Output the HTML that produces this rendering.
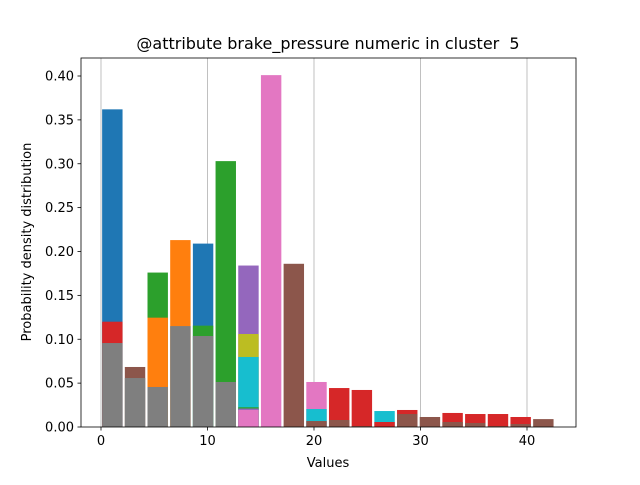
<!DOCTYPE html>
<html><head><meta charset="utf-8"><style>
body{margin:0;background:#fff;}
svg text{font-family:"DejaVu Sans","Liberation Sans",sans-serif;fill:#000;}
</style></head><body>
<svg id="chart" width="640" height="480" xmlns="http://www.w3.org/2000/svg">
<rect width="640" height="480" fill="#fff"/>
<g id="grid"></g><g id="bars"></g><g id="axes"></g>
<text x="328" y="49" font-size="16" text-anchor="middle">@attribute brake_pressure numeric in cluster&#160; 5</text>
<text x="328" y="467" font-size="13" text-anchor="middle">Values</text>
<text transform="translate(31,242) rotate(-90)" font-size="13" text-anchor="middle">Probability density distribution</text>
</svg>
<script>
const binWidth = 2.13;
const xTicks = [0, 10, 20, 30, 40];
const yTicks = ["0.00","0.05","0.10","0.15","0.20","0.25","0.30","0.35","0.40"];
const blue   = [0.362,0,0,0,0.209,0,0,0,0,0,0,0,0,0,0,0,0,0,0,0];
const orange = [0,0,0.1246,0.213,0,0,0,0,0,0,0,0,0,0,0,0,0,0,0,0];
const green  = [0,0,0.176,0,0.1155,0.303,0.0225,0,0,0,0,0,0,0,0,0,0,0,0,0];
const red    = [0.120,0,0,0,0,0,0,0,0,0,0.0444,0.0422,0.0057,0.0194,0,0.016,0.0148,0.0148,0.0114,0];
const purple = [0,0,0,0,0,0,0.184,0,0,0,0,0,0,0,0,0,0,0,0,0];
const purple2= [0,0,0,0,0,0,0.021,0,0,0,0,0,0,0,0,0,0,0,0,0];
const brown  = [0,0.0684,0,0,0,0,0,0,0.186,0.0068,0.008,0.001,0,0.0148,0.0114,0.0057,0.0046,0.001,0.0034,0.009];
const pink   = [0,0,0,0,0,0,0.0194,0.401,0,0.0513,0,0,0,0,0,0,0,0,0,0];
const gray   = [0.0957,0.0558,0.0456,0.115,0.1037,0.0513,0,0,0,0,0,0,0,0,0,0,0,0,0,0];
const olive  = [0,0,0,0,0,0,0.106,0,0,0,0,0,0,0,0,0,0,0,0,0];
const cyan   = [0,0,0,0,0,0,0.0798,0,0,0.0205,0,0,0.0182,0,0,0,0,0,0,0];
const series = [
 ["blue","#1f77b4",blue],["orange","#ff7f0e",orange],["green","#2ca02c",green],["red","#d62728",red],
 ["purple","#9467bd",purple],["purple-low","#9467bd",purple2],["brown","#8c564b",brown],["pink","#e377c2",pink],
 ["gray","#7f7f7f",gray],["olive","#bcbd22",olive],["cyan","#17becf",cyan]];
const NS="http://www.w3.org/2000/svg";
const L=81,R=576,T=58,B=427;
const xs=v=>101+v*10.65;
const ys=v=>B-v*877.5;
function mk(t,a){const e=document.createElementNS(NS,t);for(const k in a)e.setAttribute(k,a[k]);return e;}
const grid=document.getElementById('grid'),bars=document.getElementById('bars'),axes=document.getElementById('axes');
xTicks.forEach(t=>{
 const g=mk('line',{x1:xs(t),x2:xs(t),y1:T,y2:B,stroke:'#b0b0b0','stroke-width':0.8});
 
 
 grid.appendChild(g);
 const tk=mk('line',{x1:xs(t),x2:xs(t),y1:B,y2:B+3.5,stroke:'#000','stroke-width':0.8});
 
 
 axes.appendChild(tk);
 const tx=mk('text',{x:xs(t),y:B+18,'font-size':13,'text-anchor':'middle'});tx.textContent=t;
 
 
 axes.appendChild(tx);
});
yTicks.forEach(s=>{
 const v=parseFloat(s);
 const tk=mk('line',{x1:L-3.5,x2:L,y1:ys(v),y2:ys(v),stroke:'#000','stroke-width':0.8});
 
 
 axes.appendChild(tk);
 const tx=mk('text',{x:L-7,y:ys(v)+4.5,'font-size':13,'text-anchor':'end'});tx.textContent=s;
 
 
 axes.appendChild(tx);
});
const nb=gray.length;
for(let i=0;i<nb;i++){
 const segs=series.map(s=>[s[0],s[1],s[2][i]]).filter(s=>s[2]>0).sort((a,b)=>b[2]-a[2]);
 segs.forEach(s=>{
  const x0=xs(i*binWidth+binWidth*0.05),x1=xs(i*binWidth+binWidth*0.95);
  const r=mk('rect',{x:x0,y:ys(s[2]),width:x1-x0,height:B-ys(s[2]),fill:s[1]});
  
  
  bars.appendChild(r);
 });
}
const frame=mk('rect',{x:L,y:T,width:R-L,height:B-T,fill:'none',stroke:'#000','stroke-width':0.8});


axes.appendChild(frame);
</script>
</body></html>
